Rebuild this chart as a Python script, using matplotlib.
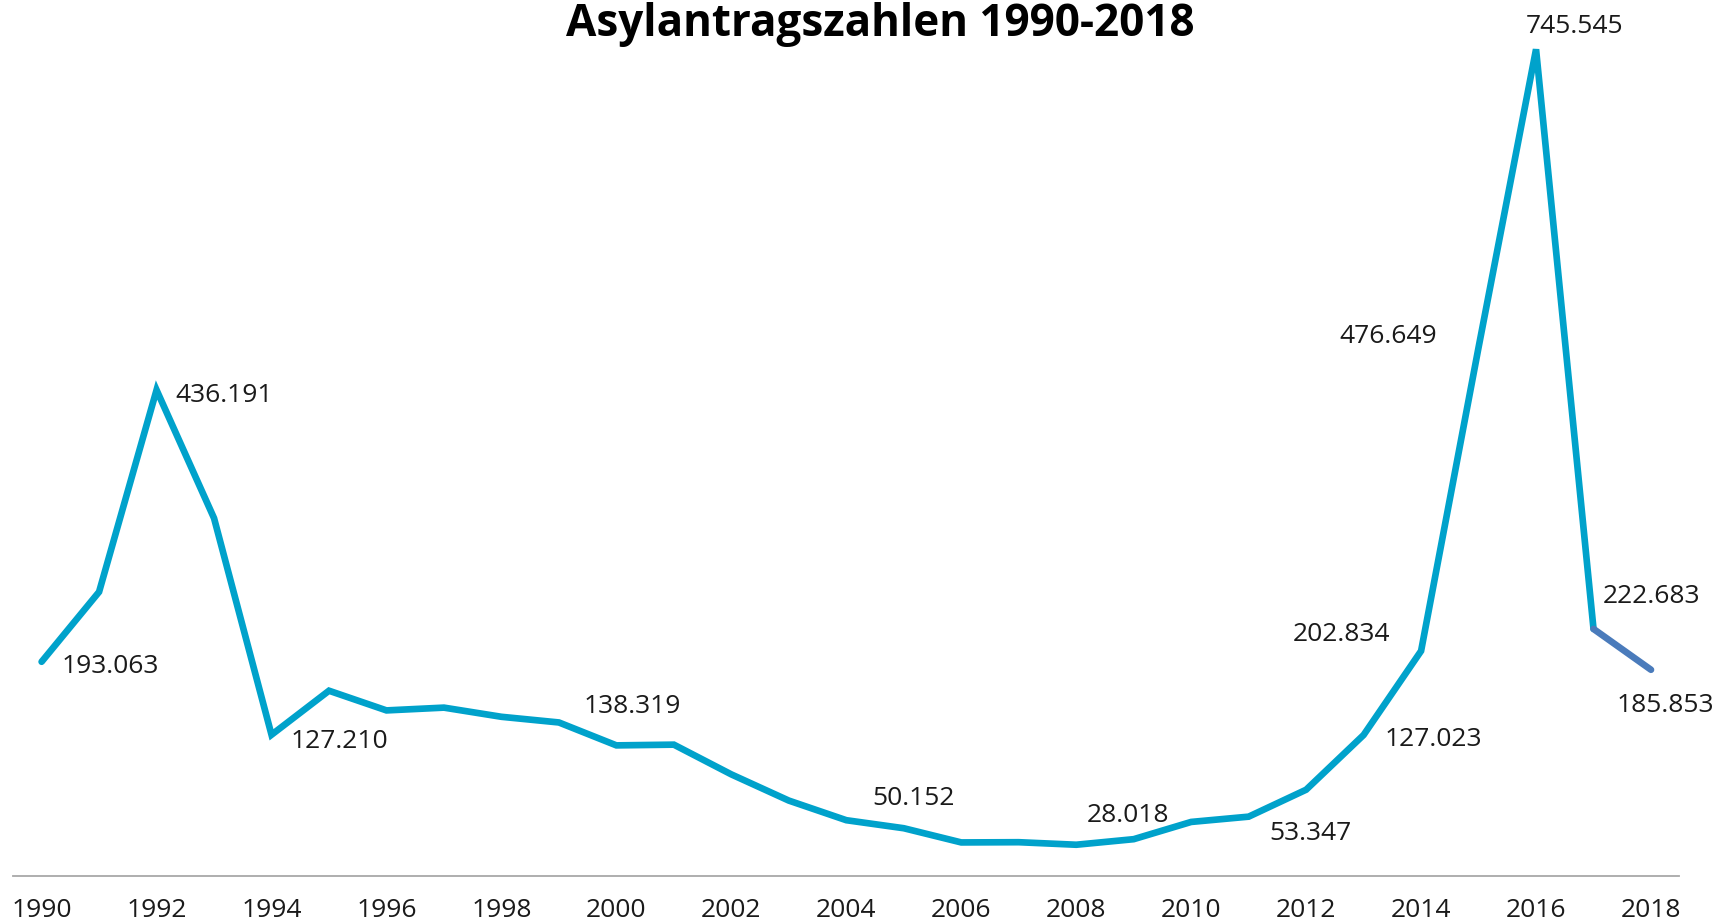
import matplotlib.pyplot as plt

plt.rcParams['font.family'] = ['Open Sans', 'DejaVu Sans']

years = list(range(1990, 2019))
antraege = [193063, 256112, 438191, 322599, 127210, 166951, 149193, 151700,
            143429, 138319, 117648, 118306, 91471, 67848, 50152, 42908,
            30100, 30303, 28018, 33033, 48589, 53347, 77651, 127023,
            202834, 476649, 745545, 222683, 185853]

# labelled points and their label texts
label_years = [1990, 1992, 1994, 1999, 2004, 2008, 2011, 2013, 2014, 2015, 2016, 2017, 2018]
label_texts = ['193.063', '436.191', '127.210', '138.319', '50.152', '28.018', '53.347',
               '127.023', '202.834', '476.649', '745.545', '222.683', '185.853']
# label offsets from the point, pixels (x right, y up)
label_offsets = [(69, -5), (68, -5), (68, -7), (73, 16), (67, 22), (52, 29), (62, -17),
                 (70, -5), (-80, 16), (-90, 11), (39, 23), (58, 32), (14, -36)]

tick_years = list(range(1990, 2019, 2))

W, H = 1718, 923
fig = plt.figure(figsize=(W / 100, H / 100), dpi=100)
x_left, x_right = 13, 1679
y_zero = 875.8
ax = fig.add_axes([x_left / W, (H - y_zero) / H, (x_right - x_left) / W, y_zero / H])

px_year = (1651 - 41.6) / 28
ax.set_xlim(1990 - (41.6 - x_left) / px_year, 1990 + (x_right - 41.6) / px_year)
ax.set_ylim(0, 745545 * y_zero / (y_zero - 49.3))

main = '#00a2cb'
last = '#4a7bbb'
ax.plot(years[:-1], antraege[:-1], color=main, lw=4.8, solid_capstyle='round',
        solid_joinstyle='miter', zorder=3)
ax.plot(years[-2:], antraege[-2:], color=last, lw=4.8, solid_capstyle='round', zorder=3)

for yr, txt, (dx, dy) in zip(label_years, label_texts, label_offsets):
    ax.annotate(txt, (yr, antraege[years.index(yr)]), xytext=(dx, dy),
                textcoords='offset pixels', ha='center', va='center',
                fontsize=19, color='#1a1a1a', annotation_clip=False)

for s in ['top', 'left', 'right']:
    ax.spines[s].set_visible(False)
ax.spines['bottom'].set_color('#a8a8a8')
ax.spines['bottom'].set_linewidth(1.3)
ax.set_yticks([])
ax.set_xticks(tick_years)
ax.set_xticklabels([str(y) for y in tick_years], fontsize=19, color='#1a1a1a')
ax.tick_params(axis='x', length=0, pad=16)

fig.text(880 / W, (H - 36) / H, 'Asylantragszahlen 1990-2018', ha='center',
         va='baseline', fontsize=31.7, fontweight='bold', color='#000000')

fig.savefig('out.png', dpi=100)
